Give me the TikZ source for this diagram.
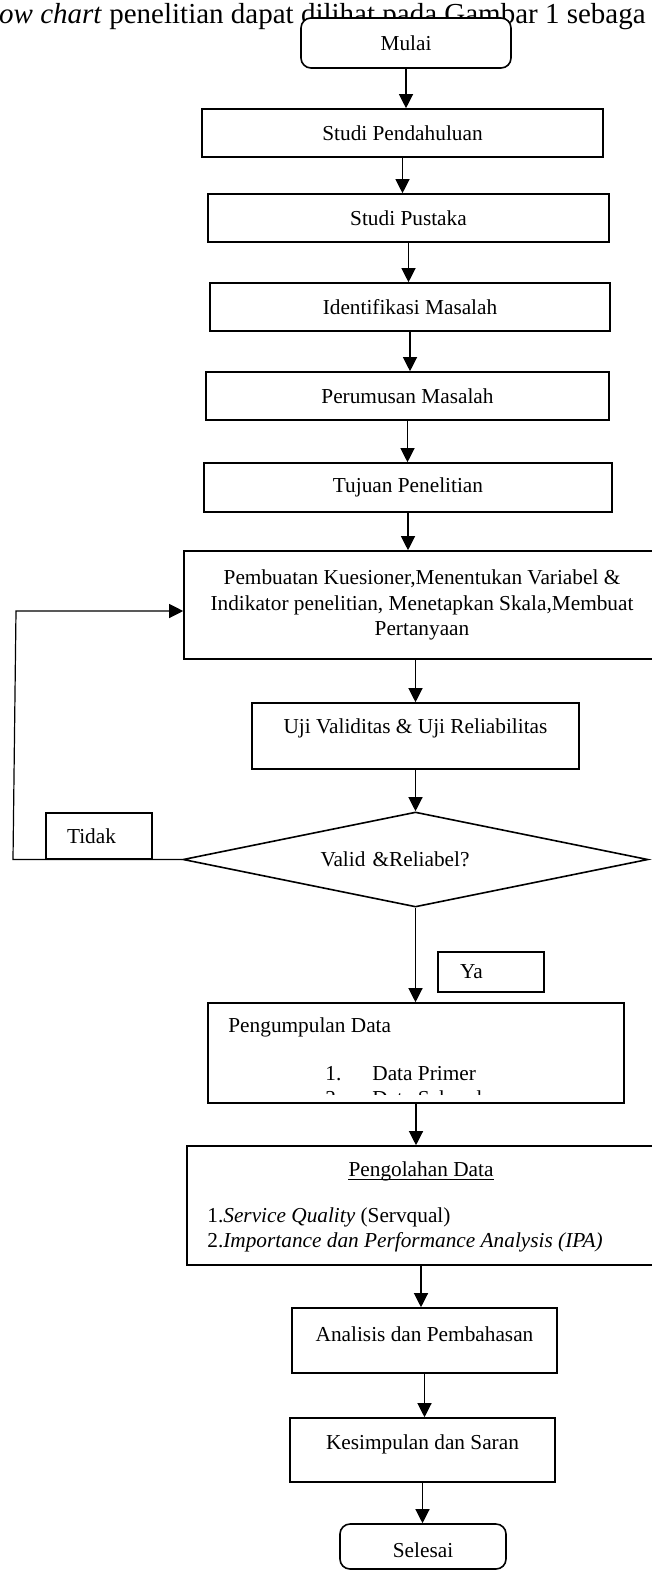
\documentclass[tikz,border=0pt]{standalone}
\usepackage{fontspec}
\setmainfont{Liberation Serif}
\usetikzlibrary{arrows.meta, shapes.geometric, positioning, calc}
\newcommand{\boxfont}{\fontsize{21.3}{25.5}\selectfont}
\newcommand{\headfont}{\fontsize{29}{34}\selectfont}
\tikzset{
    procbox/.style = {draw, rectangle, line width=1.6pt, fill=white, inner sep=0pt,
      node distance=0em, font=\boxfont},
    termbox/.style = {procbox, rounded corners=10pt},
    decisionnode/.style = {draw, diamond, line width=1.6pt, inner sep=0pt, aspect=4.9,
      node distance=0em, font=\boxfont},
    textnode/.style = {draw=none, fill=none, rectangle, inner sep=0pt, node distance=0em, font=\boxfont},
    connect/.style = {black, line width=1.2pt, -{Triangle[length=14pt, width=14pt]}}
}

\begin{document}
\begin{tikzpicture}[x=1pt, y=-1pt]
\useasboundingbox (0,0) rectangle (651,1571);
\fill[white] (0,0) rectangle (651,1571);

% running text of the page behind the start box
\node [textnode, name=kalimat, anchor=base west, font=\headfont] at (-1,24)
{\textit{ow chart} penelitian dapat dilihat pada Gambar 1 sebaga};

\node [termbox, name=mulai, minimum width=210pt, minimum height=50pt] at (406,43) {Mulai};
\node [procbox, name=pend, below of=mulai, xshift=-3.5pt, yshift=-90pt,
  minimum width=401pt, minimum height=48pt] {Studi Pendahuluan};
\node [procbox, name=pustaka, below of=pend, xshift=6pt, yshift=-85pt,
  minimum width=401pt, minimum height=48pt] {Studi Pustaka};
\node [procbox, name=ident, below of=pustaka, xshift=1.5pt, yshift=-89pt,
  minimum width=400pt, minimum height=48pt] {Identifikasi Masalah};
\node [procbox, name=perum, below of=ident, xshift=-2.5pt, yshift=-89pt,
  minimum width=403pt, minimum height=48pt] {Perumusan Masalah};
\node [procbox, name=tujuan, below of=perum, xshift=0.5pt, yshift=-91.5pt,
  minimum width=408pt, minimum height=49pt] {Tujuan Penelitian};
\node [procbox, name=buat, below of=tujuan, xshift=14pt, yshift=-117.5pt,
  minimum width=476pt, minimum height=108pt, align=center]
{Pembuatan Kuesioner,Menentukan Variabel \&\\Indikator penelitian, Menetapkan Skala,Membuat\\Pertanyaan};
\node [procbox, name=uji, below of=buat, xshift=-6.5pt, yshift=-131pt,
  minimum width=327pt, minimum height=66pt, text height=14.5pt, text depth=20.5pt]
{Uji Validitas \& Uji Reliabilitas};
\node [decisionnode, name=valid, below of=uji, yshift=-123.5pt,
  minimum width=465pt, minimum height=95pt, text width=190pt, align=left] {Valid \&Reliabel?};
\node [procbox, name=tidak, below of=valid, xshift=-316.5pt, yshift=23.5pt,
  minimum width=106pt, minimum height=46pt, text width=64pt, inner xsep=21pt, align=left] {Tidak};
\node [procbox, name=ya, below of=valid, xshift=75.5pt, yshift=-112.5pt,
  minimum width=106pt, minimum height=40pt, text width=62pt, inner xsep=22pt, align=left] {Ya};

% data collection, last line runs out of the box
\node [procbox, name=kumpul, below of=valid, xshift=0.5pt, yshift=-193.5pt,
  minimum width=416pt, minimum height=100pt] {};
\node [textnode, name=kumpuljudul, anchor=base west] at ($(kumpul.north west)+(21,30)$) {Pengumpulan Data};
\node [textnode, name=satunomor, anchor=base west] at ($(kumpul.north west)+(118,78)$) {1.};
\node [textnode, name=satudata, anchor=base west] at ($(kumpul.north west)+(165,78)$) {Data Primer};
\begin{scope}
\clip (kumpul.north west) rectangle ($(kumpul.south east)+(0,-9)$);
\node [textnode, name=duanomor, anchor=base west] at ($(kumpul.north west)+(118,103)$) {2.};
\node [textnode, name=duadata, anchor=base west] at ($(kumpul.north west)+(165,103)$) {Data Sekunder};
\end{scope}

\node [procbox, name=olah, below of=kumpul, xshift=5pt, yshift=-152.5pt,
  minimum width=468pt, minimum height=119pt] {};
\node [textnode, name=olahjudul, anchor=base] at ($(olah.north)+(0,31)$) {Pengolahan Data};
\draw [line width=1pt] ([yshift=-3pt]olahjudul.base west) -- ([yshift=-3pt]olahjudul.base east);
\node [textnode, name=metodesatu, anchor=base west] at ($(olah.north west)+(21,77)$)
{1.\textit{Service Quality} (Servqual)};
\node [textnode, name=metodedua, anchor=base west] at ($(olah.north west)+(21,102)$)
{2.\textit{Importance dan Performance Analysis (IPA)}};

\node [procbox, name=analisis, below of=olah, xshift=3.5pt, yshift=-135pt,
  minimum width=265pt, minimum height=65pt, text height=14.5pt, text depth=13.5pt]
{Analisis dan Pembahasan};
\node [procbox, name=kesim, below of=analisis, xshift=-2pt, yshift=-109.5pt,
  minimum width=265pt, minimum height=64pt, text height=14.5pt, text depth=16.5pt]
{Kesimpulan dan Saran};
\node [termbox, name=selesai, below of=kesim, xshift=0.5pt, yshift=-96.5pt,
  minimum width=166pt, minimum height=45pt, text height=22pt, text depth=0pt] {Selesai};

\draw (mulai) edge[connect] (mulai |- pend.north);
\draw (pend) edge[connect] (pend |- pustaka.north);
\draw (pustaka) edge[connect] (pustaka |- ident.north);
\draw (ident) edge[connect] (ident |- perum.north);
\draw (perum) edge[connect] (perum |- tujuan.north);
\draw (tujuan) edge[connect] (tujuan |- buat.north);
\draw (uji |- buat.south) edge[connect] (uji);
\draw (uji) edge[connect] (valid);
\draw (valid) edge[connect] (valid |- kumpul.north);
\draw (kumpul) edge[connect] (kumpul |- olah.north);
\draw (olah) edge[connect] (olah |- analisis.north);
\draw (analisis) edge[connect] (analisis |- kesim.north);
\draw (kesim) edge[connect] (kesim |- selesai.north);

% loop back when the test fails
\coordinate (loopbot) at (13,859.5);
\coordinate (looptop) at (16,611);
\draw[connect] (valid.west) -- (loopbot) -- (looptop) -- (looptop -| buat.west);
\end{tikzpicture}
\end{document}
